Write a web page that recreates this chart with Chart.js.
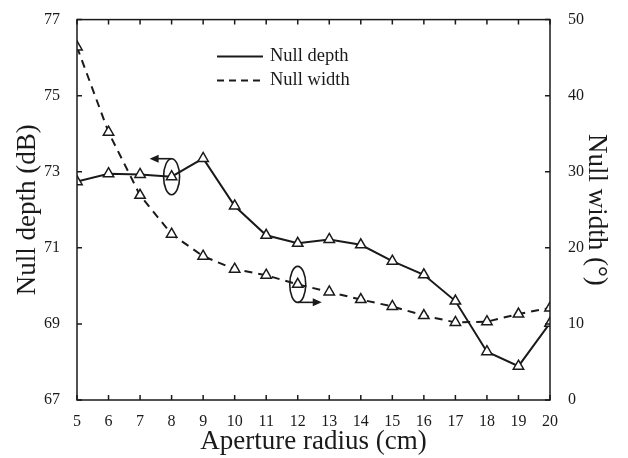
<!DOCTYPE html>
<html>
<head>
<meta charset="utf-8">
<script src="https://cdn.jsdelivr.net/npm/chart.js@4/dist/chart.umd.min.js"></script>
<style>
  body { margin: 0; background: #fff; }
  #wrap { width: 628px; height: 458px; }
</style>
</head>
<body>
<div id="wrap"><canvas id="chart" width="628" height="458"></canvas></div>
<script>
// ===== data =====
const radius = [5, 6, 7, 8, 9, 10, 11, 12, 13, 14, 15, 16, 17, 18, 19, 20];
const nullDepth = [72.74, 72.95, 72.93, 72.87, 73.35, 72.10, 71.33, 71.12, 71.22, 71.08, 70.65, 70.29, 69.60, 68.27, 67.89, 69.02];
const nullWidth = [46.4, 35.2, 26.9, 21.8, 18.9, 17.2, 16.4, 15.2, 14.2, 13.2, 12.3, 11.1, 10.2, 10.3, 11.3, 12.1];
const depthTicks = [67, 69, 71, 73, 75, 77];
const widthTicks = [0, 10, 20, 30, 40, 50];

const FONT = '"Liberation Serif", "Times New Roman", serif';
const INK = '#1a1a1a';

// box around plot + inward tick marks
const frame = {
    id: 'frame',
    afterDraw(chart) {
        const { ctx, chartArea: a, scales } = chart;
        const t = 5;
        ctx.save();
        ctx.strokeStyle = INK;
        ctx.lineWidth = 1.5;
        ctx.strokeRect(a.left, a.top, a.right - a.left, a.bottom - a.top);
        ctx.beginPath();
        scales.x.ticks.forEach((tk, i) => {
            const px = scales.x.getPixelForTick(i);
            ctx.moveTo(px, a.bottom); ctx.lineTo(px, a.bottom - t);
            ctx.moveTo(px, a.top); ctx.lineTo(px, a.top + t);
        });
        scales.y.ticks.forEach((tk, i) => {
            const py = scales.y.getPixelForTick(i);
            ctx.moveTo(a.left, py); ctx.lineTo(a.left + t, py);
        });
        scales.y1.ticks.forEach((tk, i) => {
            const py = scales.y1.getPixelForTick(i);
            ctx.moveTo(a.right, py); ctx.lineTo(a.right - t, py);
        });
        ctx.stroke();
        ctx.restore();
    }
};

// legend in upper middle of the plot
const legendBox = {
    id: 'legendBox',
    afterDraw(chart) {
        const { ctx, chartArea: a } = chart;
        const x0 = a.left + 140, x1 = a.left + 186, tx = a.left + 193;
        const rows = [{ label: 'Null depth', dash: [], y: a.top + 37 }, { label: 'Null width', dash: [7, 5], y: a.top + 61 }];
        ctx.save();
        ctx.strokeStyle = INK;
        ctx.fillStyle = INK;
        ctx.lineWidth = 2;
        ctx.font = '18.5px ' + FONT;
        ctx.textBaseline = 'middle';
        rows.forEach(r => {
            ctx.setLineDash(r.dash);
            ctx.beginPath(); ctx.moveTo(x0, r.y); ctx.lineTo(x1, r.y); ctx.stroke();
            ctx.fillText(r.label, tx, r.y);
        });
        ctx.restore();
    }
};

// ellipse + arrow markers telling which axis each curve belongs to
function arrow(ctx, x0, y, x1) {
    const dir = Math.sign(x1 - x0);
    ctx.beginPath(); ctx.moveTo(x0, y); ctx.lineTo(x1 - dir * 6, y); ctx.stroke();
    ctx.beginPath();
    ctx.moveTo(x1, y);
    ctx.lineTo(x1 - dir * 9, y - 4);
    ctx.lineTo(x1 - dir * 9, y + 4);
    ctx.closePath(); ctx.fill();
}
const axisMarks = {
    id: 'axisMarks',
    afterDatasetsDraw(chart) {
        const { ctx, scales } = chart;
        const rx = 8, ry = 18;
        ctx.save();
        ctx.strokeStyle = INK; ctx.fillStyle = INK; ctx.lineWidth = 1.6;
        // null depth -> left axis
        let cx = scales.x.getPixelForValue(radius[3]), cy = scales.y.getPixelForValue(nullDepth[3]);
        ctx.beginPath(); ctx.ellipse(cx, cy, rx, ry, 0, 0, Math.PI * 2); ctx.stroke();
        arrow(ctx, cx, cy - ry, cx - 22);
        // null width -> right axis
        cx = scales.x.getPixelForValue(radius[7]); cy = scales.y1.getPixelForValue(nullWidth[7]);
        ctx.beginPath(); ctx.ellipse(cx, cy, rx, ry, 0, 0, Math.PI * 2); ctx.stroke();
        arrow(ctx, cx, cy + ry, cx + 24);
        ctx.restore();
    }
};

const tickFont = { family: FONT, size: 16 };
const titleFont = { family: FONT, size: 27 };
const pointStyle = { pointStyle: 'triangle', pointRadius: 6, pointBackgroundColor: '#fff', pointBorderColor: INK, pointBorderWidth: 1.5 };

new Chart(document.getElementById('chart'), {
    type: 'line',
    data: {
        datasets: [
            { label: 'Null depth', data: radius.map((r, i) => ({ x: r, y: nullDepth[i] })), yAxisID: 'y',
              borderColor: INK, borderWidth: 2, tension: 0, ...pointStyle },
            { label: 'Null width', data: radius.map((r, i) => ({ x: r, y: nullWidth[i] })), yAxisID: 'y1',
              borderColor: INK, borderWidth: 2, borderDash: [8, 6], tension: 0, ...pointStyle }
        ]
    },
    options: {
        responsive: false, animation: false,
        layout: { padding: { top: 13, left: 0, right: 0, bottom: 0 } },
        plugins: { legend: { display: false }, tooltip: { enabled: false } },
        scales: {
            x: {
                type: 'linear', min: 5, max: 20,
                afterBuildTicks: s => { s.ticks = radius.map(v => ({ value: v })); },
                afterFit: s => { s.height = 58; },
                grid: { display: false }, border: { display: false },
                ticks: { color: INK, font: tickFont, padding: 4, maxRotation: 0 },
                title: { display: true, text: 'Aperture radius (cm)', color: INK, font: titleFont, padding: { top: 0, bottom: 0 } }
            },
            y: {
                type: 'linear', position: 'left', min: 67, max: 77,
                afterBuildTicks: s => { s.ticks = depthTicks.map(v => ({ value: v })); },
                afterFit: s => { s.width = 77; },
                grid: { display: false }, border: { display: false },
                ticks: { color: INK, font: tickFont, padding: 9 },
                title: { display: true, text: 'Null depth (dB)', color: INK, font: titleFont, padding: { top: 12, bottom: 0 } }
            },
            y1: {
                type: 'linear', position: 'right', min: 0, max: 50,
                afterBuildTicks: s => { s.ticks = widthTicks.map(v => ({ value: v })); },
                afterFit: s => { s.width = 78; },
                grid: { display: false }, border: { display: false },
                ticks: { color: INK, font: tickFont, padding: 10 },
                title: { display: true, text: 'Null width (°)', color: INK, font: titleFont, padding: { top: 16, bottom: 0 } }
            }
        }
    },
    plugins: [frame, legendBox, axisMarks]
});
</script>
</body>
</html>
